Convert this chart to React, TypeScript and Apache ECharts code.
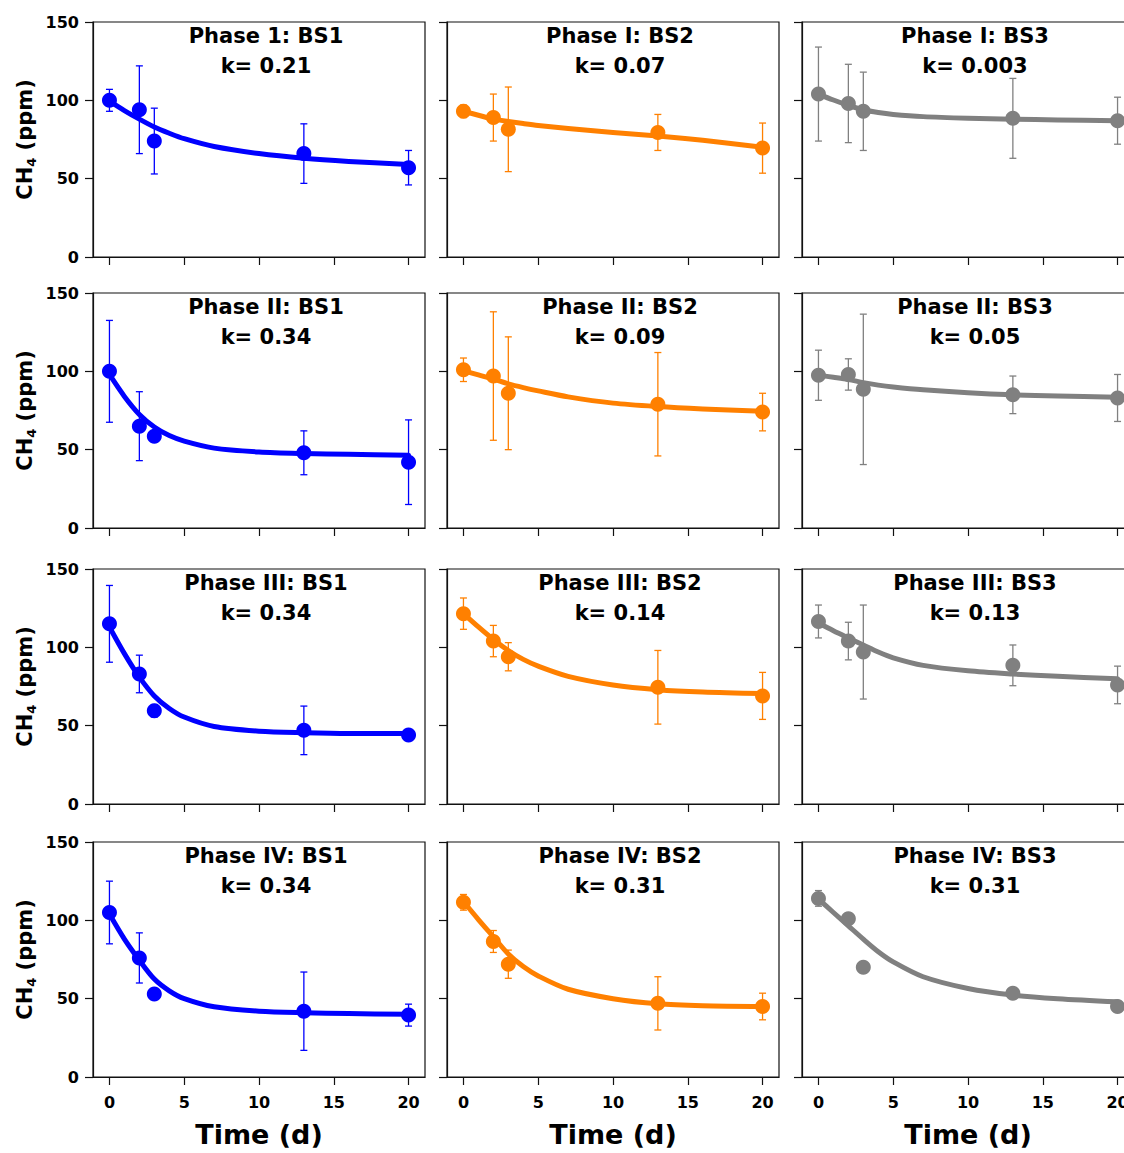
import React, { useEffect, useRef } from "react";
import * as echarts from "echarts";

// ---- data ----
const days = [0, 2, 3, 13, 20];
const curveDays = [0, 1, 2, 3, 4, 5, 7, 10, 13, 16, 20];
const dayTicks = [0, 5, 10, 15, 20];

const panelTitles = [
  "Phase 1: BS1", "Phase I: BS2", "Phase I: BS3",
  "Phase II: BS1", "Phase II: BS2", "Phase II: BS3",
  "Phase III: BS1", "Phase III: BS2", "Phase III: BS3",
  "Phase IV: BS1", "Phase IV: BS2", "Phase IV: BS3",
];
const panelK = [
  "k= 0.21", "k= 0.07", "k= 0.003",
  "k= 0.34", "k= 0.09", "k= 0.05",
  "k= 0.34", "k= 0.14", "k= 0.13",
  "k= 0.34", "k= 0.31", "k= 0.31",
];

const p1bs1 = [100, 94, 74, 66, 57];
const p1bs1Err = [7, 28, 21, 19, 11];
const p1bs1Fit = [99.5, 93.5, 88, 83, 79, 75.5, 70.5, 66, 63, 61, 59];

const p1bs2 = [93, 89, 81.5, 79.5, 69.5];
const p1bs2Err = [4, 15, 27, 11.5, 16];
const p1bs2Fit = [93, 90.5, 88, 86.5, 85.2, 84, 82, 79.5, 77.3, 74.5, 70];

const p1bs3 = [104, 98, 93, 88.5, 87];
const p1bs3Err = [30, 25, 25, 25.5, 15];
const p1bs3Fit = [104, 100.2, 96.8, 94, 92.2, 91, 89.6, 88.6, 88, 87.5, 87];

const p2bs1 = [100, 65, 58.5, 48, 42];
const p2bs1Err = [32.5, 22, 0, 14, 27];
const p2bs1Fit = [98, 84, 72.5, 64.5, 59, 55.5, 51, 48.5, 47.5, 47, 46.5];

const p2bs2 = [101, 97, 86, 79, 74];
const p2bs2Err = [7.5, 41, 36, 33, 12];
const p2bs2Fit = [100.5, 97.7, 95, 92, 89.6, 87.5, 83.7, 79.7, 77.5, 76, 74.5];

const p2bs3 = [97.5, 98, 88.5, 85, 83];
const p2bs3Err = [16, 10, 48, 12, 15];
const p2bs3Fit = [97.5, 96.2, 94.8, 92.8, 91.2, 90, 88.2, 86.3, 85, 84.2, 83.5];

const p3bs1 = [115, 83, 59.5, 47, 44];
const p3bs1Err = [24.5, 12, 4, 15.5, 1];
const p3bs1Fit = [113, 96, 81, 69, 61, 55.5, 49.5, 46.5, 45.5, 45, 45];

const p3bs2 = [121.5, 104, 94, 74.5, 69];
const p3bs2Err = [10, 10, 9, 23.5, 15];
const p3bs2Fit = [121.5, 113, 105, 98, 92.3, 88, 81.5, 76, 73, 71.5, 70.5];

const p3bs3 = [116.5, 104, 97, 88.5, 76];
const p3bs3Err = [10.5, 12, 30, 13, 12];
const p3bs3Fit = [115.5, 110.6, 106, 101.5, 97, 93.3, 88.5, 85, 83, 81.5, 80];

const p4bs1 = [105, 76, 53, 42, 39.5];
const p4bs1Err = [20, 16, 3, 25, 7];
const p4bs1Fit = [104, 88, 74.5, 62.5, 55, 50, 44.8, 42, 41, 40.5, 40];

const p4bs2 = [111.5, 86.5, 72, 47, 45];
const p4bs2Err = [5, 7, 9, 17, 8.5];
const p4bs2Fit = [112, 100.5, 89.5, 78.5, 70.5, 64.5, 56, 50, 46.7, 45.5, 45];

const p4bs3 = [114, 101, 70, 53.5, 45];
const p4bs3Err = [5, 2, 3, 2, 2];
const p4bs3Fit = [113.5, 105, 96.5, 88, 80, 73.5, 64, 56.5, 52.3, 50, 48];

const panelValues = [p1bs1, p1bs2, p1bs3, p2bs1, p2bs2, p2bs3, p3bs1, p3bs2, p3bs3, p4bs1, p4bs2, p4bs3];
const panelErrs = [p1bs1Err, p1bs2Err, p1bs3Err, p2bs1Err, p2bs2Err, p2bs3Err, p3bs1Err, p3bs2Err, p3bs3Err, p4bs1Err, p4bs2Err, p4bs3Err];
const panelFits = [p1bs1Fit, p1bs2Fit, p1bs3Fit, p2bs1Fit, p2bs2Fit, p2bs3Fit, p3bs1Fit, p3bs2Fit, p3bs3Fit, p4bs1Fit, p4bs2Fit, p4bs3Fit];

// ---- styling / layout ----
const colColors = ["#0000FF", "#FF8000", "#808080"];
const colLefts = [93, 447, 802];
const rowTops = [22, 293, 569, 842];
const plotW = 332;
const plotH = 235;
const FONT = "DejaVu Sans";

function buildOption() {
  const grids: any[] = [];
  const xAxes: any[] = [];
  const yAxes: any[] = [];
  const series: any[] = [];
  const graphics: any[] = [];

  for (let i = 0; i < 12; i++) {
    const r = Math.floor(i / 3);
    const c = i % 3;
    const color = colColors[c];
    grids.push({
      left: colLefts[c],
      top: rowTops[r],
      width: plotW,
      height: plotH,
      show: true,
      borderColor: "#111",
      borderWidth: 1.2,
      backgroundColor: "transparent",
      containLabel: false,
      outerBoundsMode: "none",
    });
    const bottomRow = r === 3;
    xAxes.push({
      type: "value",
      gridIndex: i,
      min: -1.1,
      max: 21.1,
      axisLine: { show: true, onZero: false, lineStyle: { color: "#111", width: 1.2 } },
      axisTick: { show: true, length: 8, customValues: dayTicks, lineStyle: { color: "#111", width: 1.2 } },
      axisLabel: {
        show: bottomRow,
        customValues: dayTicks,
        margin: 17,
        color: "#000",
        fontFamily: FONT,
        fontWeight: "bold",
        fontSize: 16,
      },
      splitLine: { show: false },
      name: bottomRow ? "Time (d)" : "",
      nameLocation: "middle",
      nameGap: 44,
      nameTextStyle: { color: "#000", fontFamily: FONT, fontWeight: "bold", fontSize: 27 },
    });
    const leftCol = c === 0;
    yAxes.push({
      type: "value",
      gridIndex: i,
      min: 0,
      max: 150,
      interval: 50,
      axisLine: { show: true, onZero: false, lineStyle: { color: "#111", width: 1.2 } },
      axisTick: { show: true, length: 8, lineStyle: { color: "#111", width: 1.2 } },
      axisLabel: {
        show: leftCol,
        margin: 14,
        color: "#000",
        fontFamily: FONT,
        fontWeight: "bold",
        fontSize: 16,
        showMinLabel: true,
        showMaxLabel: true,
      },
      splitLine: { show: false },
      name: leftCol ? "{a|CH}{s|4}{a| (ppm)}" : "",
      nameLocation: "middle",
      nameGap: 55,
      nameTextStyle: {
        rich: {
          a: { fontFamily: FONT, fontWeight: "bold", fontSize: 21, color: "#000", lineHeight: 26 },
          s: { fontFamily: FONT, fontWeight: "bold", fontSize: 13, color: "#000", lineHeight: 13, verticalAlign: "bottom" },
        },
      },
    });

    const vals = panelValues[i];
    const errs = panelErrs[i];
    const fit = panelFits[i];

    series.push({
      type: "custom",
      xAxisIndex: i,
      yAxisIndex: i,
      data: days.map((d, k) => [d, vals[k] - errs[k], vals[k] + errs[k]]),
      encode: { x: 0, y: [1, 2] },
      z: 1,
      renderItem: (params: any, api: any) => {
        const x = api.value(0);
        const top = api.coord([x, api.value(2)]);
        const bot = api.coord([x, api.value(1)]);
        const w = 3.5;
        const st = { stroke: color, lineWidth: 1.3 };
        return {
          type: "group",
          children: [
            { type: "line", shape: { x1: top[0], y1: top[1], x2: bot[0], y2: bot[1] }, style: st },
            { type: "line", shape: { x1: top[0] - w, y1: top[1], x2: top[0] + w, y2: top[1] }, style: st },
            { type: "line", shape: { x1: bot[0] - w, y1: bot[1], x2: bot[0] + w, y2: bot[1] }, style: st },
          ],
        };
      },
    });
    series.push({
      type: "line",
      xAxisIndex: i,
      yAxisIndex: i,
      data: curveDays.map((d, k) => [d, fit[k]]),
      smooth: 0.3,
      showSymbol: false,
      symbol: "none",
      lineStyle: { color, width: 5, cap: "round", join: "round" },
      z: 2,
    });
    series.push({
      type: "scatter",
      xAxisIndex: i,
      yAxisIndex: i,
      data: days.map((d, k) => [d, vals[k]]),
      symbol: "circle",
      symbolSize: 15,
      itemStyle: { color, opacity: 1 },
      z: 3,
    });

    const cx = colLefts[c] + 173;
    graphics.push({
      type: "text",
      x: cx,
      y: rowTops[r] + 14,
      style: {
        text: panelTitles[i],
        fill: "#000",
        font: `bold 21px "${FONT}"`,
        align: "center",
        verticalAlign: "middle",
      },
      z: 10,
    });
    graphics.push({
      type: "text",
      x: cx,
      y: rowTops[r] + 44,
      style: {
        text: panelK[i],
        fill: "#000",
        font: `bold 21px "${FONT}"`,
        align: "center",
        verticalAlign: "middle",
      },
      z: 10,
    });
  }

  return {
    animation: false,
    backgroundColor: "#fff",
    grid: grids,
    xAxis: xAxes,
    yAxis: yAxes,
    series,
    graphic: graphics,
  };
}

export default function App() {
  const ref = useRef<HTMLDivElement>(null);
  useEffect(() => {
    document.body.style.margin = "0";
    if (!ref.current) return;
    const chart = echarts.init(ref.current, undefined, { renderer: "svg" });
    chart.setOption(buildOption() as any);
    return () => chart.dispose();
  }, []);
  return <div ref={ref} style={{ width: 1124, height: 1153 }} />;
}
